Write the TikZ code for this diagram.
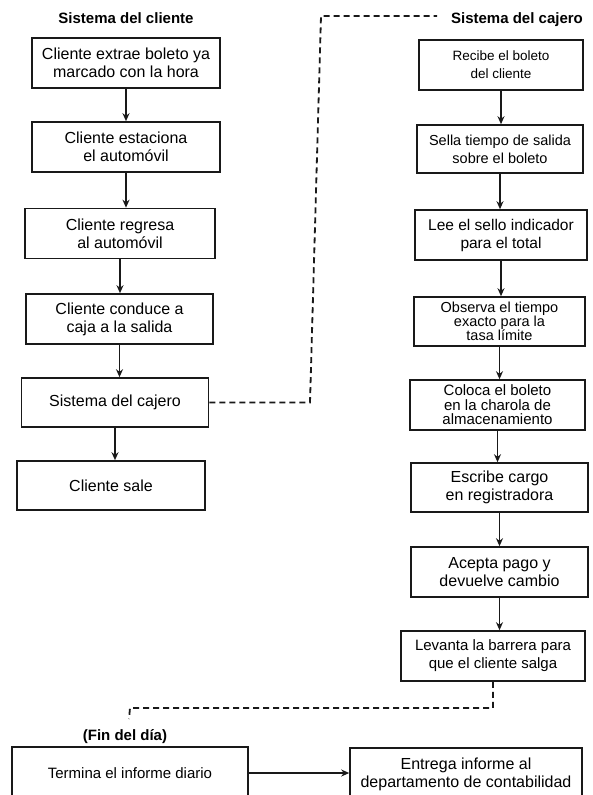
\documentclass[tikz,border=0pt]{standalone}
\usepackage{fontspec}
\setmainfont{Liberation Sans}
\usetikzlibrary{arrows.meta}

\begin{document}
\begin{tikzpicture}[x=1pt,y=-1pt,
  box/.style={draw=black!90, line width=1.6pt, align=center, inner sep=0pt,
    minimum height=50pt, text=black, font=\fontsize{16}{18}\selectfont},
  fsz/.style 2 args={font=\fontsize{#1}{#2}\selectfont},
  head/.style={text=black, font=\bfseries\fontsize{15}{17}\selectfont, inner sep=0pt},
  flow/.style={draw=black!90, line width=1.5pt, -{Stealth[length=8pt,width=7pt]}},
  link/.style={draw=black!90, line width=1.8pt, dash pattern=on 6pt off 4pt}]

\path[use as bounding box] (0,0) rectangle (593,795);
\clip (0,0) rectangle (593,795);
\fill[white] (0,0) rectangle (593,795);

% column headers
\node[head] (hcli) at (126,18) {Sistema del cliente};
\node[head] (hcaj) at (517,20) {Sistema del cajero};

% customer side
\node[box, minimum width=188pt] (L1) at (126,63)    {Cliente extrae boleto ya\\marcado con la hora};
\node[box, minimum width=188pt] (L2) at (126,147)   {Cliente estaciona\\el automóvil};
\node[box, minimum width=190pt] (L3) at (120,233.5) {Cliente regresa\\al automóvil};
\node[box, minimum width=187pt] (L4) at (119.5,319) {Cliente conduce a\\caja a la salida};
\node[box, minimum width=187pt, minimum height=49pt] (L5) at (115,402.5) {Sistema del cajero};
\node[box, minimum width=188pt, minimum height=49pt] (L6) at (111,485.5) {Cliente sale};

% cashier side
\node[box, fsz={13.5}{18}, minimum width=164pt] (R1) at (501,65) {Recibe el boleto\\del cliente};
\node[box, fsz={14.5}{18}, minimum width=166pt, minimum height=48pt] (R2) at (500,149) {Sella tiempo de salida\\sobre el boleto};
\node[box, fsz={15.5}{18}, minimum width=172pt] (R3) at (501,235) {Lee el sello indicador\\para el total};
\node[box, fsz={14.5}{14}, minimum width=171pt, minimum height=49pt] (R4) at (499.5,321.5) {Observa el tiempo\\exacto para la\\tasa límite};
\node[box, fsz={15}{14.5}, minimum width=175pt] (R5) at (497.5,405) {Coloca el boleto\\en la charola de\\almacenamiento};
\node[box, minimum width=177pt, minimum height=49pt] (R6) at (499.5,487.5) {Escribe cargo\\en registradora};
\node[box, minimum width=177pt] (R7) at (499.5,572) {Acepta pago y\\devuelve cambio};
\node[box, fsz={15}{18}, minimum width=184pt] (R8) at (493,656) {Levanta la barrera para\\que el cliente salga};

% end of day
\node[head] (fin) at (125,737) {(Fin del día)};
\node[box, fsz={15}{18}, minimum width=236pt, minimum height=52pt] (B1) at (130,773) {Termina el informe diario};
\node[box, minimum width=232pt, minimum height=52pt] (B2) at (466,774) {Entrega informe al\\departamento de contabilidad};

% flow arrows
\foreach \a/\b in {L1/L2, L2/L3, L3/L4, L4/L5, L5/L6,
                   R1/R2, R2/R3, R3/R4, R4/R5, R5/R6, R6/R7, R7/R8}
  \draw[flow] (\a.south) -- (\a.south |- \b.north);

\draw[flow] (B1.east) -- (B1.east -| B2.west);

% hand-over to the cashier system
\coordinate (c1) at (310,402.5);
\coordinate (c2) at (321,16);
\coordinate (c3) at (437,16);
\draw[link] (L5.east) -- (c1) -- (c2) -- (c3);

% end of day link
\coordinate (d1) at (493,708);
\coordinate (d2) at (130,708);
\coordinate (d3) at (129,719);
\draw[link] (R8.south) -- (d1) -- (d2) -- (d3);

\end{tikzpicture}
\end{document}
